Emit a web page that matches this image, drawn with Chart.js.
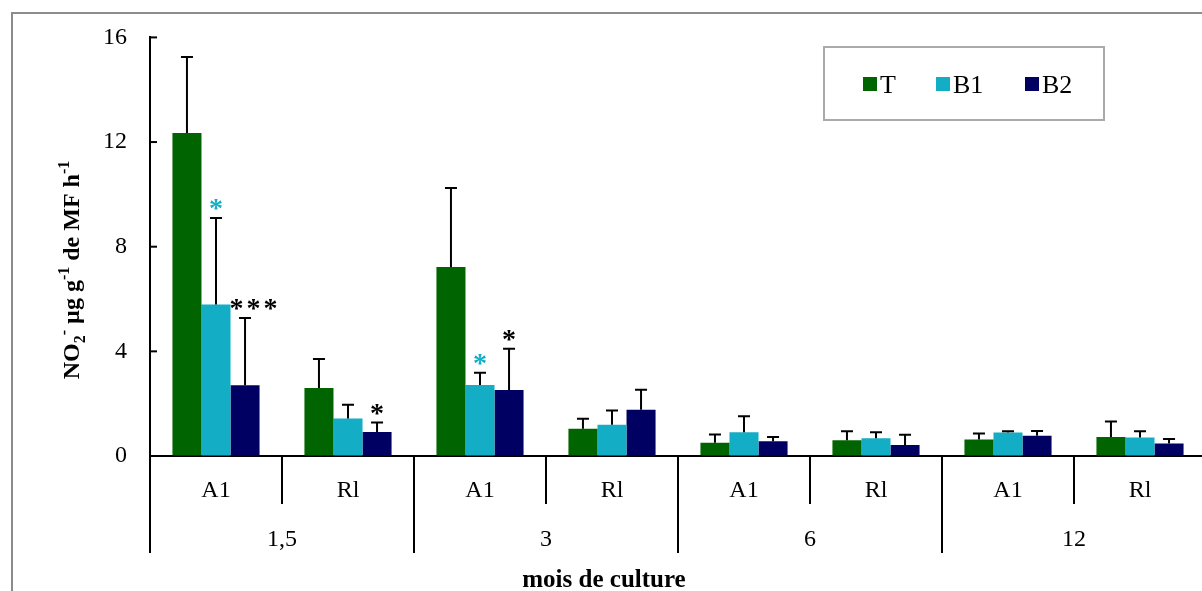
<!DOCTYPE html>
<html>
<head>
<meta charset="utf-8">
<script src="https://cdn.jsdelivr.net/npm/chart.js@4.4.1/dist/chart.umd.min.js"></script>
<style>
  html, body { margin: 0; padding: 0; background: #fff; overflow: hidden; }
  .frame { position: absolute; left: 11px; top: 12px; width: 1300px; height: 700px; border: 2px solid #8c8c8c; }
  canvas { position: absolute; left: 0; top: 0; }
</style>
</head>
<body>
<div class="frame"></div>
<canvas id="chart" width="1220" height="591"></canvas>
<script>
// categories: inner (organ) and outer (months of culture)
const organs = ["A1", "Rl", "A1", "Rl", "A1", "Rl", "A1", "Rl"];
const months = ["1,5", "3", "6", "12"];

// series values (NO2- µg g-1 de MF h-1) and their error bars
const valuesT = [12.35, 2.60, 7.22, 1.04, 0.51, 0.60, 0.63, 0.73];
const errorsT = [2.90, 1.11, 3.02, 0.38, 0.31, 0.35, 0.23, 0.59];
const valuesB1 = [5.79, 1.43, 2.71, 1.19, 0.91, 0.68, 0.90, 0.71];
const errorsB1 = [3.31, 0.53, 0.47, 0.55, 0.61, 0.23, 0.05, 0.24];
const valuesB2 = [2.70, 0.92, 2.52, 1.77, 0.56, 0.42, 0.77, 0.48];
const errorsB2 = [2.57, 0.36, 1.58, 0.76, 0.17, 0.39, 0.19, 0.17];

// y tick values
const yTicks = [0, 4, 8, 12, 16];

// significance marks: [dataset, category, text, colour]
const marks = [
  [1, 0, "*", "#13aec5"],
  [2, 0, "***", "#000"],
  [2, 1, "*", "#000"],
  [1, 2, "*", "#13aec5"],
  [2, 2, "*", "#000"],
];

const SERIF = "'Liberation Serif', 'Times New Roman', serif";
const errors = [errorsT, errorsB1, errorsB2];

const decor = {
  id: "decor",
  afterDatasetsDraw(chart) {
    const ctx = chart.ctx;
    const ys = chart.scales.y;
    ctx.save();

    // error bars (upper only)
    ctx.strokeStyle = "#000";
    ctx.lineWidth = 2;
    chart.data.datasets.forEach((ds, d) => {
      const meta = chart.getDatasetMeta(d);
      meta.data.forEach((bar, i) => {
        const top = ys.getPixelForValue(ds.data[i] + errors[d][i]);
        ctx.beginPath();
        ctx.moveTo(bar.x, bar.y);
        ctx.lineTo(bar.x, top);
        ctx.moveTo(bar.x - 6, top);
        ctx.lineTo(bar.x + 6, top);
        ctx.stroke();
      });
    });

    // significance stars
    ctx.textAlign = "center";
    ctx.textBaseline = "middle";
    ctx.font = "bold 28px " + SERIF;
    marks.forEach(([d, i, txt, col]) => {
      const bar = chart.getDatasetMeta(d).data[i];
      const top = ys.getPixelForValue(chart.data.datasets[d].data[i] + errors[d][i]);
      const multi = txt.length > 1;
      ctx.letterSpacing = multi ? "3px" : "0px";
      ctx.fillStyle = col;
      ctx.fillText(txt, bar.x + (multi ? 10 : 0), top - 8);
    });
    ctx.letterSpacing = "0px";
    ctx.restore();
  },
  afterDraw(chart) {
    const ctx = chart.ctx;
    const xs = chart.scales.x;
    const ys = chart.scales.y;
    const base = ys.getPixelForValue(0);
    const w = xs.width / organs.length;
    ctx.save();
    ctx.strokeStyle = "#000";
    ctx.lineWidth = 2;

    // inside ticks on the y axis
    yTicks.forEach(v => {
      const y = ys.getPixelForValue(v);
      ctx.beginPath();
      ctx.moveTo(xs.left, y);
      ctx.lineTo(xs.left + 7, y);
      ctx.stroke();
    });

    // category separators below the axis
    for (let i = 0; i <= organs.length; i++) {
      const x = Math.round(xs.left + i * w);
      ctx.beginPath();
      ctx.moveTo(x, base);
      ctx.lineTo(x, i % 2 === 0 ? 553 : 504);
      ctx.stroke();
    }

    ctx.fillStyle = "#000";
    ctx.textAlign = "center";
    ctx.textBaseline = "middle";
    ctx.font = "24px " + SERIF;
    organs.forEach((lab, i) => {
      ctx.fillText(lab, xs.getPixelForValue(i), 491);
    });
    months.forEach((lab, j) => {
      ctx.fillText(lab, xs.left + (2 * j + 1) * w, 540);
    });

    ctx.font = "bold 25px " + SERIF;
    ctx.textBaseline = "alphabetic";
    ctx.fillText("mois de culture", 604, 587);

    // y axis title with sub/superscripts
    const big = "bold 24px " + SERIF;
    const small = "bold 16px " + SERIF;
    const parts = [
      ["NO", big, 0], ["2", small, 6], ["-", small, -10],
      [" µg g", big, 0], ["-1", small, -10],
      [" de MF h", big, 0], ["-1", small, -10],
    ];
    let total = 0;
    parts.forEach(p => { ctx.font = p[1]; total += ctx.measureText(p[0]).width; });
    ctx.translate(79, 270);
    ctx.rotate(-Math.PI / 2);
    ctx.textAlign = "left";
    let x = -total / 2;
    parts.forEach(([t, f, dy]) => {
      ctx.font = f;
      ctx.fillText(t, x, dy);
      x += ctx.measureText(t).width;
    });
    ctx.setTransform(1, 0, 0, 1, 0, 0);

    // legend
    ctx.strokeStyle = "#aaa";
    ctx.lineWidth = 2;
    ctx.strokeRect(824, 47, 280, 73);
    const lx = [863, 936, 1025];
    ctx.font = "26px " + SERIF;
    ctx.textBaseline = "middle";
    chart.data.datasets.forEach((ds, d) => {
      ctx.fillStyle = ds.backgroundColor;
      ctx.fillRect(lx[d], 77, 14, 14);
      ctx.fillStyle = "#000";
      ctx.fillText(ds.label, lx[d] + 17, 86);
    });
    ctx.restore();
  }
};

new Chart(document.getElementById("chart"), {
  type: "bar",
  data: {
    labels: organs,
    datasets: [
      { label: "T", data: valuesT, backgroundColor: "#006400" },
      { label: "B1", data: valuesB1, backgroundColor: "#13aec5" },
      { label: "B2", data: valuesB2, backgroundColor: "#000062" },
    ],
  },
  options: {
    responsive: false,
    animation: false,
    devicePixelRatio: 1,
    layout: { padding: { top: 35, right: 14, left: 0, bottom: 0 } },
    datasets: { bar: { categoryPercentage: 0.66, barPercentage: 1.0 } },
    plugins: { legend: { display: false }, tooltip: { enabled: false } },
    scales: {
      x: {
        ticks: { display: false },
        grid: { display: false },
        border: { display: true, color: "#000", width: 2 },
        afterFit(scale) { scale.height = 135; },
      },
      y: {
        min: 0,
        max: 16,
        ticks: {
          stepSize: 4,
          padding: 23,
          color: "#000",
          font: { family: SERIF, size: 24 },
        },
        grid: { drawOnChartArea: false, drawTicks: false },
        border: { display: true, color: "#000", width: 2 },
        afterFit(scale) { scale.width = 150; },
      },
    },
  },
  plugins: [decor],
});
</script>
</body>
</html>
